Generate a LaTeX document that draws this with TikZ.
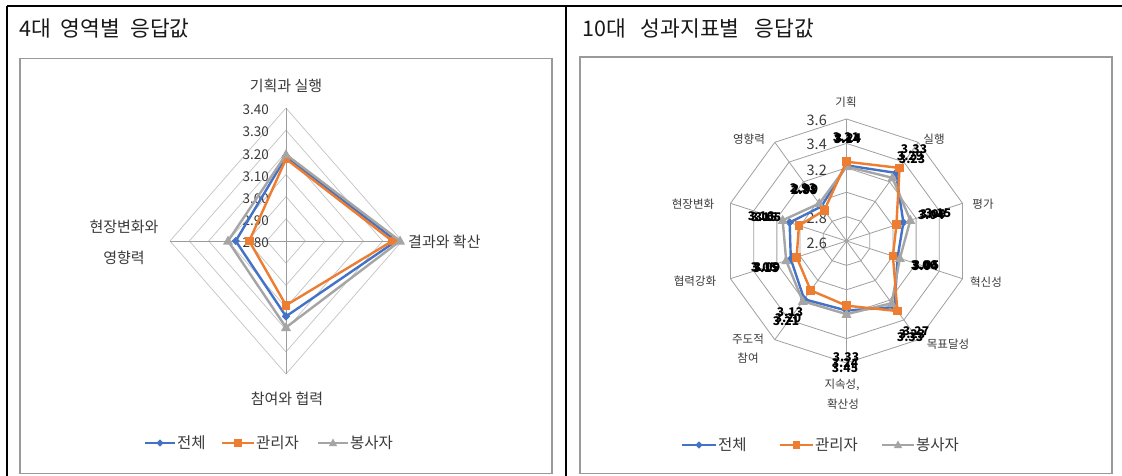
\documentclass[tikz,border=0pt]{standalone}
\usepackage{fontspec}
\newfontfamily\kr{Noto Sans CJK KR}
\definecolor{cblue}{HTML}{4472C4}
\definecolor{corange}{HTML}{ED7D31}
\definecolor{cgray}{HTML}{A5A5A5}
\definecolor{gridA}{HTML}{C4C4C4}
\definecolor{spokeA}{HTML}{9C9C9C}
\definecolor{gridB}{HTML}{A0A0A0}
\definecolor{txt}{HTML}{3A3A3A}
\definecolor{boxc}{HTML}{9A9A9A}
\newcommand\rseries[4]{%
  \draw[#1] (846.5,{241-(#2-2.6)*122}) \foreach \v [count=\j] in {#3} { -- ({846.5+(\v-2.6)*122*sin(36*\j)},{241-(\v-2.6)*122*cos(36*\j)}) } -- cycle;
  \pic at (846.5,{241-(#2-2.6)*122}) {#4};
  \foreach \v [count=\j] in {#3} { \pic at ({846.5+(\v-2.6)*122*sin(36*\j)},{241-(\v-2.6)*122*cos(36*\j)}) {#4}; }
}
\newcommand\lseries[6]{%
  \draw[#1] (286,{241-(#2-2.8)/0.6*133}) -- ({286+(#3-2.8)/0.6*116},241) -- (286,{241+(#4-2.8)/0.6*133}) -- ({286-(#5-2.8)/0.6*116},241) -- cycle;
  \pic at (286,{241-(#2-2.8)/0.6*133}) {#6};
  \pic at ({286+(#3-2.8)/0.6*116},241) {#6};
  \pic at (286,{241+(#4-2.8)/0.6*133}) {#6};
  \pic at ({286-(#5-2.8)/0.6*116},241) {#6};
}
\begin{document}
\begin{tikzpicture}[x=1pt,y=-1pt,
  frame/.style={line width=1.4pt,black},
  chartbox/.style={draw=boxc,line width=1.3pt},
  ringA/.style={draw=gridA,line width=0.7pt},
  spkA/.style={draw=spokeA,line width=0.7pt},
  ringB/.style={draw=gridB,line width=0.8pt},
  sb/.style={draw=cblue,line width=2.4pt,line join=round},
  so/.style={draw=corange,line width=2.4pt,line join=round},
  sg/.style={draw=cgray,line width=2.4pt,line join=round},
  ttl/.style={font=\kr\fontsize{21.5}{25}\selectfont,text=black!90,inner sep=0,anchor=west},
  catA/.style={font=\kr\fontsize{15}{18}\selectfont,text=txt,inner sep=0},
  sclA/.style={font=\kr\fontsize{13.5}{16}\selectfont,text=txt,inner sep=0,anchor=east},
  catB/.style={font=\kr\fontsize{11.5}{14}\selectfont,text=txt,inner sep=0},
  sclB/.style={font=\kr\fontsize{14.5}{16}\selectfont,text=txt,inner sep=0,anchor=east},
  dlab/.style={font=\kr\bfseries\fontsize{12}{14}\selectfont,text=black,inner sep=0},
  leg/.style={font=\kr\fontsize{15.5}{18}\selectfont,text=txt,inner sep=0,anchor=west},
  legb/.style={draw=cblue,line width=1.8pt},
  lego/.style={draw=corange,line width=1.8pt},
  legg/.style={draw=cgray,line width=1.8pt},
  bdia/.pic={\fill[cblue] (0,-4.2) -- (4.2,0) -- (0,4.2) -- (-4.2,0) -- cycle;},
  osq/.pic={\fill[corange] (-4.3,-4.3) rectangle (4.3,4.3);},
  gtri/.pic={\fill[cgray] (0,-5.5) -- (5,3.6) -- (-5,3.6) -- cycle;},
  bdiaS/.pic={\fill[cblue] (0,-3.6) -- (3.6,0) -- (0,3.6) -- (-3.6,0) -- cycle;},
  osqS/.pic={\fill[corange] (-3.8,-3.8) rectangle (3.8,3.8);},
  gtriS/.pic={\fill[cgray] (0,-4.5) -- (4.2,3.2) -- (-4.2,3.2) -- cycle;}
]
\useasboundingbox (0,0) rectangle (1122,476);
\fill[white] (0,0) rectangle (1122,476);
% table frame
\draw[frame] (7,6) -- (1122,6);
\draw[frame] (7,6) -- (7,476);
\draw[frame] (566,6) -- (566,476);
\node[ttl] (t1) at (19,28) {4대\hspace{10pt}영역별\hspace{10pt}응답값};
\node[ttl] (t2) at (582,28) {10대\hspace{15pt}성과지표별\hspace{15pt}응답값};
% chart boxes
\draw[chartbox] (20,58.7) rectangle (552,473.3);
\draw[chartbox] (580,57) rectangle (1112,473.3);

% ---------- left radar ----------
\foreach \f in {1,...,6} {
  \draw[ringA] (286,{241-133*\f/6}) -- ({286+116*\f/6},241) -- (286,{241+133*\f/6}) -- ({286-116*\f/6},241) -- cycle;
}
\draw[spkA] (286,108) -- (286,374);
\draw[spkA] (170,241) -- (402,241);
\foreach \i/\t in {0/2.80,1/2.90,2/3.00,3/3.10,4/3.20,5/3.30,6/3.40} {
  \node[sclA] (ls\i) at (269,{243-22.17*\i}) {\t};
}
\lseries{sb}{3.18}{3.37}{3.14}{3.06}{bdia}
\lseries{so}{3.17}{3.35}{3.09}{2.99}{osq}
\lseries{sg}{3.19}{3.39}{3.19}{3.10}{gtri}
\node[catA] (la1) at (286,86) {기획과 실행};
\node[catA,anchor=west] (la2) at (408,242) {결과와 확산};
\node[catA] (la3) at (287,399) {참여와 협력};
\node[catA] (la4a) at (124,227) {현장변화와};
\node[catA] (la4b) at (124,258) {영향력};
% left legend
\draw[legb] (145,443) -- (175,443); \pic at (160,443) {bdiaS};
\node[leg] (lg1) at (177,443) {전체};
\draw[lego] (222,443) -- (254,443); \pic at (238,443) {osqS};
\node[leg] (lg2) at (256,443) {관리자};
\draw[legg] (318,443) -- (348,443); \pic at (333,443) {gtriS};
\node[leg] (lg3) at (350,443) {봉사자};

% ---------- right radar ----------
\foreach \k in {1,...,5} {
  \draw[ringB] (846.5,{241-122*\k/5}) \foreach \j in {1,...,9} { -- ({846.5+122*\k/5*sin(36*\j)},{241-122*\k/5*cos(36*\j)}) } -- cycle;
}
\foreach \j in {0,...,9} {
  \draw[ringB] (846.5,241) -- ({846.5+122*sin(36*\j)},{241-122*cos(36*\j)});
}
\node[sclB] (rs6) at (827,120) {3.6};
\node[sclB] (rs4) at (827,144) {3.4};
\node[sclB] (rs2) at (827,170) {3.2};
\node[sclB] (rs8) at (827,218) {2.8};
\node[sclB] (rs0) at (827,243) {2.6};
\rseries{sb}{3.22}{3.29,3.09,3.04,3.27,3.17,3.19,3.08,3.09,2.95}{bdia}
\rseries{sg}{3.21}{3.24,3.15,3.06,3.23,3.20,3.21,3.12,3.15,2.98}{gtri}
\rseries{so}{3.25}{3.34,3.03,3.00,3.31,3.13,3.10,3.03,3.01,2.91}{osq}
% category labels
\node[catB] (rc0) at (846,102) {기획};
\node[catB] (rc1) at (934,139) {실행};
\node[catB] (rc2) at (983,204) {평가};
\node[catB] (rc3) at (986,282) {혁신성};
\node[catB] (rc4) at (948,344) {목표달성};
\node[catB] (rc5a) at (842,385) {지속성,};
\node[catB] (rc5b) at (843,404) {확산성};
\node[catB] (rc6a) at (748,339) {주도적};
\node[catB] (rc6b) at (748,358) {참여};
\node[catB] (rc7) at (695,281) {협력강화};
\node[catB] (rc8) at (693,204) {현장변화};
\node[catB] (rc9) at (749,139) {영향력};
% data labels (overlapping, as in the chart)
\node[dlab] (d0a) at (846,137) {3.21};
\node[dlab] (d0b) at (848,138) {3.24};
\node[dlab] (d0c) at (847,139) {3.14};
\node[dlab] (d1a) at (914,149) {3.33};
\node[dlab] (d1b) at (910,156) {3.29};
\node[dlab] (d1c) at (912,159) {3.23};
\node[dlab] (d2a) at (938,213) {3.15};
\node[dlab] (d2b) at (933,214) {3.09};
\node[dlab] (d2c) at (931,215) {3.04};
\node[dlab] (d3a) at (924,265) {3.06};
\node[dlab] (d3b) at (926,265) {3.05};
\node[dlab] (d3c) at (925,266) {3.04};
\node[dlab] (d4a) at (916,331) {3.27};
\node[dlab] (d4b) at (912,334) {3.23};
\node[dlab] (d4c) at (910,337) {3.33};
\node[dlab] (d5a) at (846,357) {3.33};
\node[dlab] (d5b) at (845,363) {3.24};
\node[dlab] (d5c) at (845,368) {3.45};
\node[dlab] (d6a) at (790,312) {3.13};
\node[dlab] (d6b) at (788,318) {3.20};
\node[dlab] (d6c) at (786,321) {3.21};
\node[dlab] (d7a) at (764,267) {3.05};
\node[dlab] (d7b) at (767,267) {3.09};
\node[dlab] (d7c) at (766,268) {3.15};
\node[dlab] (d8a) at (761,216) {3.16};
\node[dlab] (d8b) at (768,217) {3.05};
\node[dlab] (d8c) at (764,217) {3.15};
\node[dlab] (d9a) at (803,188) {2.93};
\node[dlab] (d9b) at (805,189) {2.99};
\node[dlab] (d9c) at (804,190) {2.88};
% right legend
\draw[legb] (682,445) -- (716,445); \pic at (699,445) {bdiaS};
\node[leg] (rg1) at (718,445) {전체};
\draw[lego] (780,445) -- (813,445); \pic at (796.5,445) {osqS};
\node[leg] (rg2) at (815,445) {관리자};
\draw[legg] (882,445) -- (914,445); \pic at (898,445) {gtriS};
\node[leg] (rg3) at (916,445) {봉사자};
\end{tikzpicture}
\end{document}
